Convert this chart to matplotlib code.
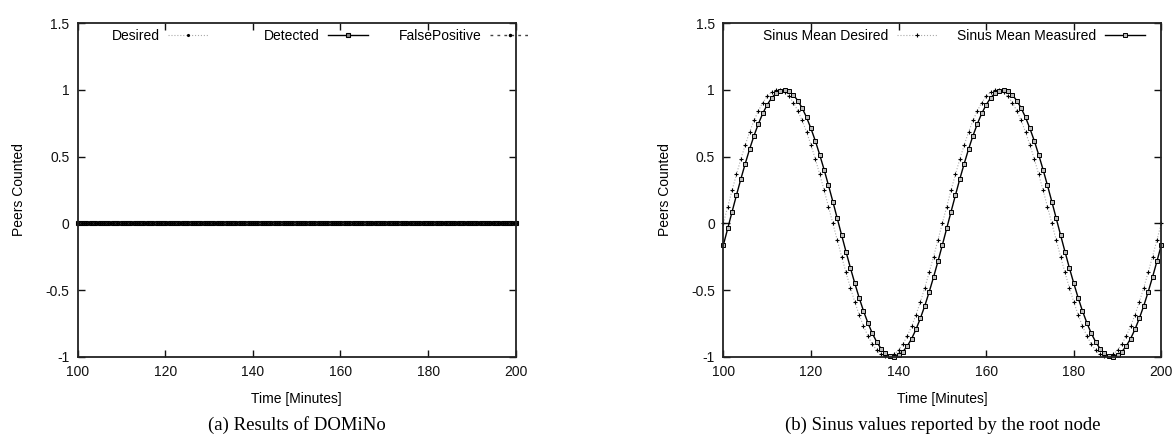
import matplotlib
matplotlib.use('Agg')
import matplotlib.pyplot as plt
from matplotlib.legend import Legend

plt.rcParams['font.family'] = ['Liberation Sans', 'DejaVu Sans']

# time axis, one sample per minute
minutes = list(range(100, 201))

# (a) peer counting results
desired_a = [0] * 101
detected = [0] * 101
false_positive = [0] * 101

# (b) sinus values at the root node, one period = 50 minutes
_desired_period = [
    0.000, 0.125, 0.249, 0.368, 0.482, 0.588, 0.685, 0.771, 0.844, 0.905,
    0.951, 0.982, 0.998, 0.998, 0.982, 0.951, 0.905, 0.844, 0.771, 0.685,
    0.588, 0.482, 0.368, 0.249, 0.125, 0.000, -0.125, -0.249, -0.368, -0.482,
    -0.588, -0.685, -0.771, -0.844, -0.905, -0.951, -0.982, -0.998, -0.998, -0.982,
    -0.951, -0.905, -0.844, -0.771, -0.685, -0.588, -0.482, -0.368, -0.249, -0.125,
]
_measured_period = [
    -0.163, -0.038, 0.088, 0.212, 0.333, 0.448, 0.557, 0.657, 0.746, 0.824,
    0.888, 0.939, 0.975, 0.995, 1.000, 0.989, 0.962, 0.920, 0.864, 0.794,
    0.711, 0.618, 0.514, 0.403, 0.285, 0.163, 0.038, -0.088, -0.212, -0.333,
    -0.448, -0.557, -0.657, -0.746, -0.824, -0.888, -0.939, -0.975, -0.995, -1.000,
    -0.989, -0.962, -0.920, -0.864, -0.794, -0.711, -0.618, -0.514, -0.403, -0.285,
]
sinus_desired = _desired_period + _desired_period + [0.000]
sinus_measured = _measured_period + _measured_period + [-0.163]

xticks = [100, 120, 140, 160, 180, 200]
yticks = [-1, -0.5, 0, 0.5, 1, 1.5]
ytick_labels = ['-1', '-0.5', '0', '0.5', '1', '1.5']

FS = 10

fig = plt.figure(figsize=(11.76, 4.45), dpi=100)
ax_a = fig.add_axes([0.0661, 0.1984, 0.3724, 0.7494])
ax_b = fig.add_axes([0.6151, 0.1984, 0.3724, 0.7494])


def style_axes(ax):
    ax.set_xlim(100, 200)
    ax.set_ylim(-1, 1.5)
    ax.set_xticks(xticks)
    ax.set_yticks(yticks)
    ax.set_yticklabels(ytick_labels)
    ax.tick_params(direction='in', length=5, width=1, top=True, right=True,
                   labelsize=FS, pad=6, colors='#111111')
    for s in ax.spines.values():
        s.set_linewidth(1.3)
        s.set_color('#222222')
    ax.set_xlabel('Time [Minutes]', fontsize=FS, labelpad=9)
    ax.set_ylabel('Peers Counted', fontsize=FS, labelpad=14)


def key_columns(ax, right_edges):
    # gnuplot-style key: fixed-width columns, label left of the sample
    for line, xr in zip(ax.get_lines(), right_edges):
        leg = Legend(ax, [line], [line.get_label()], loc='upper right',
                     bbox_to_anchor=(xr, 0.982), frameon=False, markerfirst=False,
                     handlelength=2.9, handletextpad=0.6, borderpad=0,
                     borderaxespad=0, fontsize=FS)
        ax.add_artist(leg)


# left panel
ax_a.plot(minutes, desired_a, linestyle=':', color='#aaaaaa', lw=0.8,
          marker='.', ms=2.5, mfc='black', mec='black', label='Desired', clip_on=False)
ax_a.plot(minutes, detected, linestyle='-', color='black', lw=1.0,
          marker='s', ms=3, mfc='#888888', mec='black', mew=0.8, label='Detected', clip_on=False)
ax_a.plot(minutes, false_positive, linestyle=(0, (2, 3)), color='#444444', lw=1.0,
          marker='.', ms=3, mfc='black', mec='black', label='FalsePositive', clip_on=False)
style_axes(ax_a)
key_columns(ax_a, [0.2975, 0.6628, 1.0327])

# right panel
ax_b.plot(minutes, sinus_desired, linestyle=':', color='#aaaaaa', lw=0.8,
          marker='+', ms=2.5, mew=0.8, mec='black', label='Sinus Mean Desired', clip_on=False)
ax_b.plot(minutes, sinus_measured, linestyle='-', color='black', lw=1.0,
          marker='s', ms=2.8, mfc='#bbbbbb', mec='black', mew=0.7, label='Sinus Mean Measured',
          clip_on=False)
style_axes(ax_b)
key_columns(ax_b, [0.4879, 0.9628])

fig.text(0.2525, 0.045, '(a) Results of DOMiNo', ha='center', va='center',
         fontsize=13.5, family='Liberation Serif')
fig.text(0.8013, 0.045, '(b) Sinus values reported by the root node', ha='center', va='center',
         fontsize=13.5, family='Liberation Serif')

fig.savefig('out.png', dpi=100)
